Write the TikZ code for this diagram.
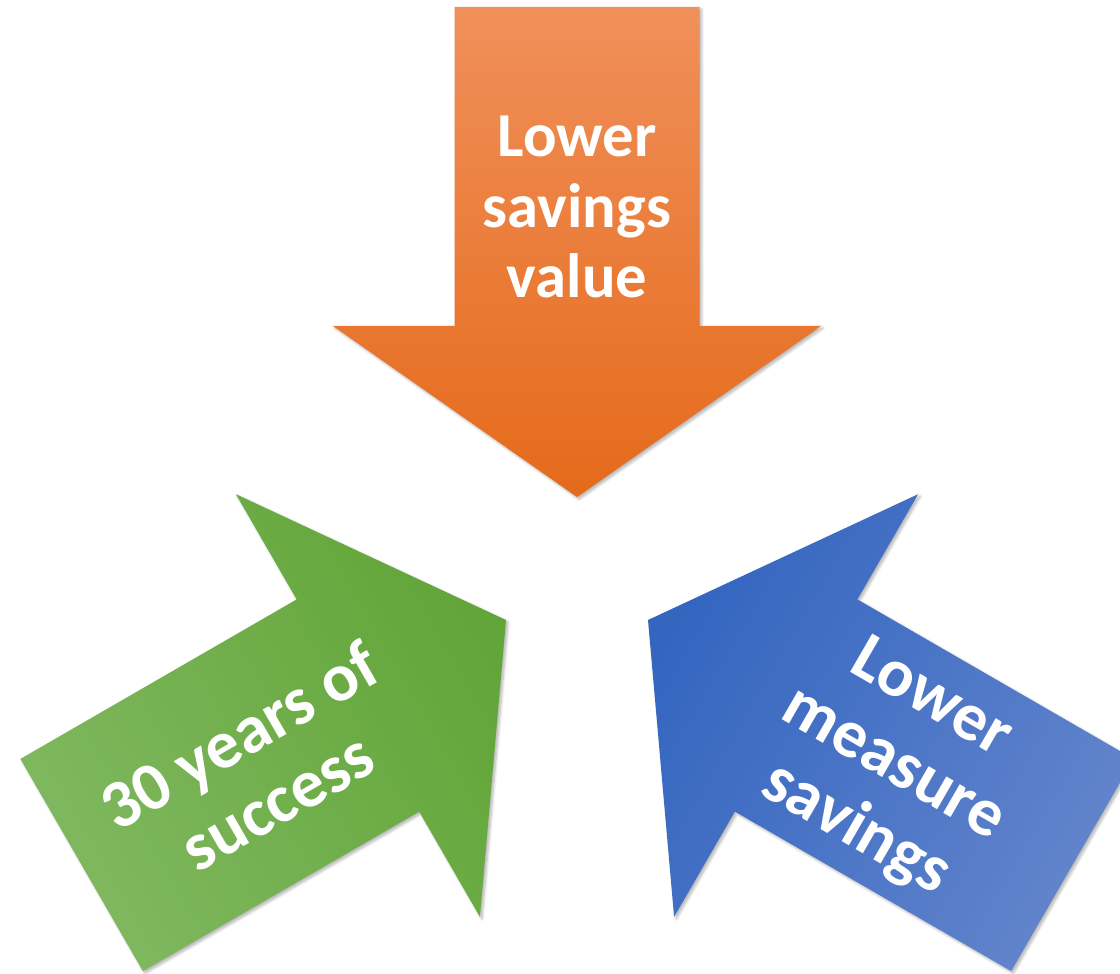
\documentclass[tikz,border=0pt]{standalone}
\usepackage{fontspec}
\setmainfont{Carlito}
\usetikzlibrary{shadows.blur}

\definecolor{orangetail}{RGB}{240,144,90}
\definecolor{orangetip}{RGB}{229,106,26}
\definecolor{greentail}{RGB}{128,184,96}
\definecolor{greentip}{RGB}{98,165,56}
\definecolor{bluetail}{RGB}{98,132,204}
\definecolor{bluetip}{RGB}{52,102,192}

% one arrow, tail up and tip down, around the middle point
\newcommand{\arrowpath}{(-122.5,572) -- (122.5,572) -- (122.5,253) -- (244,253) -- (0,82) -- (-244,253) -- (-122.5,253) -- cycle}

\begin{document}
\begin{tikzpicture}[x=0.025cm, y=0.025cm,
    bigarrow/.style={blur shadow={shadow xshift=1.5pt, shadow yshift=-1.5pt, shadow blur steps=6, shadow opacity=30}},
    arrowtext/.style={text=white, font=\bfseries, align=center, inner sep=0pt}]
    \useasboundingbox (0,0) rectangle (1120,974);
    \clip (0,0) rectangle (1120,974);

    % Orange arrow
    \begin{scope}[shift={(577,395)}]
        \shade[bigarrow, top color=orangetail, bottom color=orangetip] \arrowpath;
    \end{scope}

    % Green arrow
    \begin{scope}[shift={(577,395)}, rotate=120]
        \shade[bigarrow, top color=greentail, bottom color=greentip, shading angle=120] \arrowpath;
    \end{scope}

    % Blue arrow
    \begin{scope}[shift={(577,395)}, rotate=-120]
        \shade[bigarrow, top color=bluetail, bottom color=bluetip, shading angle=-120] \arrowpath;
    \end{scope}

    \node[arrowtext, font=\fontsize{44.5}{50}\selectfont\bfseries] (value) at (577,767) {Lower\\savings\\value};
    \node[arrowtext, font=\fontsize{48.5}{54}\selectfont\bfseries, rotate=30] (success) at (258,206) {30 years of\\success};
    \node[arrowtext, font=\fontsize{48.5}{53.5}\selectfont\bfseries, rotate=-30] (measure) at (893,209) {Lower\\measure\\savings};
\end{tikzpicture}
\end{document}
